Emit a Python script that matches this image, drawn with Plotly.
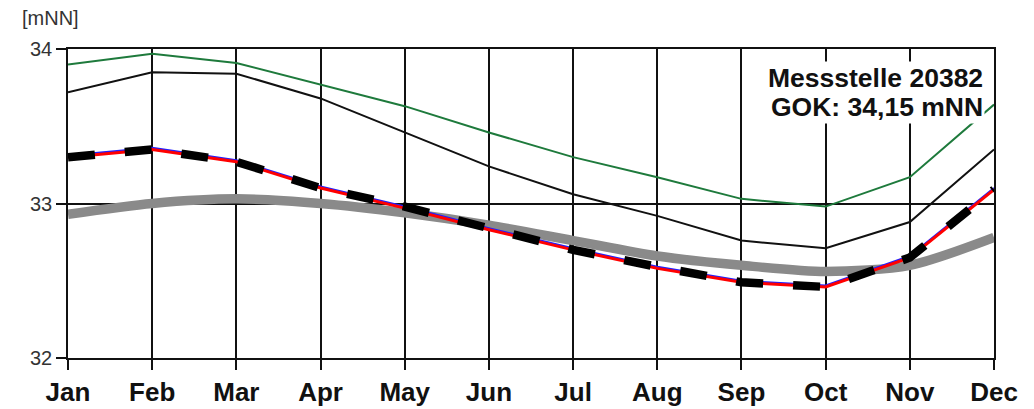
import plotly.graph_objects as go

# Monthly groundwater levels (mNN) at station 20382
months = ["Jan", "Feb", "Mar", "Apr", "May", "Jun", "Jul", "Aug", "Sep", "Oct", "Nov", "Dec"]

level_max = [33.90, 33.97, 33.91, 33.77, 33.63, 33.46, 33.30, 33.17, 33.03, 32.98, 33.17, 33.64]
level_high = [33.72, 33.85, 33.84, 33.68, 33.46, 33.24, 33.06, 32.92, 32.76, 32.71, 32.88, 33.35]
level_median = [33.30, 33.35, 33.27, 33.10, 32.97, 32.83, 32.70, 32.58, 32.49, 32.46, 32.65, 33.09]
level_mean = [33.31, 33.36, 33.28, 33.11, 32.98, 32.84, 32.71, 32.59, 32.50, 32.47, 32.66, 33.10]
level_current = [33.30, 33.35, 33.27, 33.10, 32.98, 32.84, 32.70, 32.59, 32.49, 32.46, 32.65, 33.09]
level_longterm = [32.93, 33.00, 33.03, 33.00, 32.94, 32.86, 32.76, 32.66, 32.60, 32.56, 32.60, 32.78]

y_ticks = [32, 33, 34]
station_label = "Messstelle 20382"
gok_label = "GOK: 34,15 mNN"
unit_label = "[mNN]"

x = list(range(len(months)))
FONT = "Liberation Sans, Arial, sans-serif"

fig = go.Figure()
fig.add_trace(go.Scatter(x=x, y=level_longterm, mode="lines",
                         line=dict(color="#8a8a8a", width=9.5, shape="spline", smoothing=0.8)))
fig.add_trace(go.Scatter(x=x, y=level_max, mode="lines",
                         line=dict(color="#1e7a3c", width=2)))
fig.add_trace(go.Scatter(x=x, y=level_high, mode="lines",
                         line=dict(color="#111111", width=2)))
fig.add_trace(go.Scatter(x=x, y=level_mean, mode="lines",
                         line=dict(color="#2020ff", width=2)))
fig.add_trace(go.Scatter(x=x, y=level_median, mode="lines",
                         line=dict(color="#ff0000", width=3)))
fig.add_trace(go.Scatter(x=x, y=level_current, mode="lines",
                         line=dict(color="#000000", width=8.5, dash="27px,30px")))

fig.update_layout(
    width=1034, height=409,
    margin=dict(l=68, r=40, t=49, b=51),
    paper_bgcolor="white", plot_bgcolor="white",
    showlegend=False,
    font=dict(family=FONT, color="#111111"),
    xaxis=dict(
        range=[0, 11], tickvals=x, ticktext=months, automargin=False,
        showgrid=True, gridcolor="#111111", gridwidth=1.5,
        showline=True, linecolor="#111111", linewidth=1.5, mirror=True,
        ticks="outside", ticklen=10, tickwidth=1.5, tickcolor="#111111",
        tickfont=dict(size=26, family=FONT, weight="bold", color="#111111"),
        zeroline=False, fixedrange=True,
    ),
    yaxis=dict(
        range=[32, 34], tickvals=y_ticks, automargin=False,
        showgrid=True, gridcolor="#111111", gridwidth=1.5,
        showline=True, linecolor="#111111", linewidth=1.5, mirror=True,
        ticks="outside", ticklen=10, tickwidth=1.5, tickcolor="#111111",
        tickfont=dict(size=20, family=FONT, color="#333333"),
        zeroline=False, fixedrange=True,
    ),
    annotations=[
        dict(text=unit_label, xref="paper", yref="paper", x=-0.052, y=1.10,
             xanchor="left", yanchor="middle", showarrow=False,
             font=dict(size=20, family=FONT, color="#333333")),
        dict(text=station_label, xref="paper", yref="paper", x=0.990, y=0.905,
             xanchor="right", yanchor="middle", showarrow=False, bgcolor="white",
             font=dict(size=26.5, family=FONT, weight="bold", color="#111111")),
        dict(text=gok_label, xref="paper", yref="paper", x=0.990, y=0.812,
             xanchor="right", yanchor="middle", showarrow=False, bgcolor="white",
             font=dict(size=26.5, family=FONT, weight="bold", color="#111111")),
    ],
)

fig.write_html("out.html")
